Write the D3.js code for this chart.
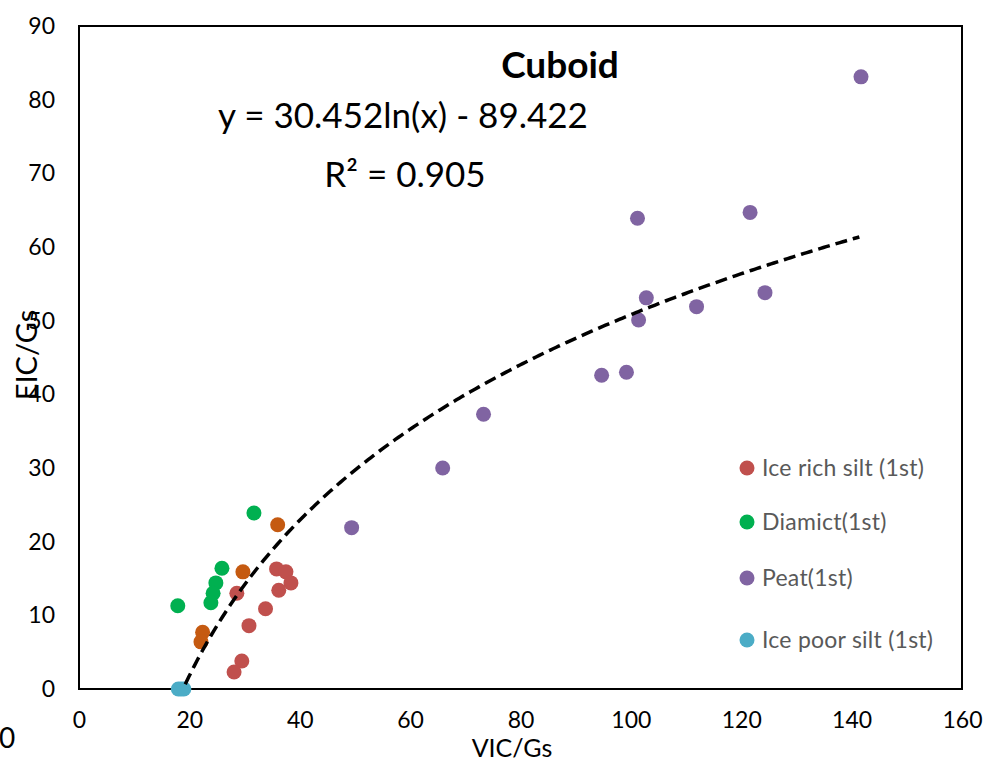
<!DOCTYPE html>
<html>
<head>
<meta charset="utf-8">
<script src="https://cdn.jsdelivr.net/npm/d3@7"></script>
<style>
  body { margin: 0; background: #fff; }
  text { font-family: Lato, "Open Sans", sans-serif; }
</style>
</head>
<body>
<div id="chart"></div>
<script>
// values, [VIC/Gs, EIC/Gs]
const iceRichSilt = [[35.8, 16.3], [37.5, 15.9], [38.4, 14.4], [36.2, 13.4], [28.6, 13.0],
  [33.8, 10.9], [30.8, 8.6], [29.5, 3.8], [28.1, 2.3]];
const diamict = [[31.7, 23.9], [25.9, 16.4], [24.8, 14.4], [24.3, 13.0], [23.9, 11.7], [17.9, 11.3]];
const peat = [[141.7, 83.1], [101.2, 63.9], [121.6, 64.7], [102.8, 53.1], [124.3, 53.8], [111.9, 51.9],
  [101.4, 50.1], [99.2, 43.0], [94.7, 42.6], [73.3, 37.3], [65.9, 30.0], [49.4, 21.9]];
const icePoorSilt = [[18.0, 0], [18.5, 0], [19.0, 0]];
const other = [[36.0, 22.3], [29.7, 15.9], [22.4, 7.7], [22.1, 6.4]];

const legendNames = ["Ice rich silt (1st)", "Diamict(1st)", "Peat(1st)", "Ice poor silt (1st)"];
const xTicks = [0, 20, 40, 60, 80, 100, 120, 140, 160];
const yTicks = [0, 10, 20, 30, 40, 50, 60, 70, 80, 90];

// trendline shown on the chart: y = 30.452ln(x) - 89.422
const fitA = 30.452, fitB = -89.422;

let width = 989,
  height = 765,
  margin = ({ top: 26, right: 27, bottom: 76, left: 79 });

let x = d3.scaleLinear()
  .domain([0, 160])
  .range([margin.left, width - margin.right]);

let y = d3.scaleLinear()
  .domain([0, 90])
  .range([height - margin.bottom, margin.top]);

const svg = d3.select("#chart")
  .append("svg")
  .attr("width", width)
  .attr("height", height)
  .attr("viewBox", [0, 0, width, height]);

svg.append("defs").append("clipPath")
  .attr("id", "plot")
  .append("rect")
  .attr("x", x(0)).attr("y", y(90))
  .attr("width", x(160) - x(0)).attr("height", y(0) - y(90));

let xAxis = g => g
  .attr("transform", `translate(0,${y(0)})`)
  .call(d3.axisBottom(x).tickValues(xTicks).tickSize(0).tickPadding(23))
  .call(g => g.select(".domain").remove())
  .call(g => g.selectAll("text").attr("font-size", 23).attr("fill", "#000").style("font-family", "Lato"));

let yAxis = g => g
  .attr("transform", `translate(${x(0)},0)`)
  .call(d3.axisLeft(y).tickValues(yTicks).tickSize(0).tickPadding(24))
  .call(g => g.select(".domain").remove())
  .call(g => g.selectAll("text").attr("font-size", 23).attr("fill", "#000").style("font-family", "Lato"));

svg.append("g").call(xAxis);
svg.append("g").call(yAxis);

// plot frame
svg.append("rect")
  .attr("x", x(0)).attr("y", y(90))
  .attr("width", x(160) - x(0)).attr("height", y(0) - y(90))
  .attr("fill", "none")
  .attr("stroke", "#000")
  .attr("stroke-width", 2);

const series = [
  { data: iceRichSilt, color: "#C0504D" },
  { data: diamict, color: "#00B050" },
  { data: peat, color: "#8064A2" },
  { data: icePoorSilt, color: "#4BACC6" },
  { data: other, color: "#C55A11" }
];

series.forEach(s => {
  svg.append("g")
    .selectAll("circle")
    .data(s.data)
    .join("circle")
    .attr("cx", d => x(d[0]))
    .attr("cy", d => y(d[1]))
    .attr("r", 7.5)
    .attr("fill", s.color);
});

// log trendline over the x range of the data
const allX = [].concat(iceRichSilt, diamict, peat, icePoorSilt, other).map(d => d[0]);
const fitPts = d3.range(d3.min(allX), d3.max(allX) + 0.01, 0.5)
  .map(v => [v, fitA * Math.log(v) + fitB]);

svg.append("path")
  .datum(fitPts)
  .attr("clip-path", "url(#plot)")
  .attr("fill", "none")
  .attr("stroke", "#000")
  .attr("stroke-width", 3.5)
  .attr("stroke-dasharray", "12,6")
  .attr("d", d3.line().x(d => x(d[0])).y(d => y(d[1])));

// titles
svg.append("text")
  .attr("x", 560).attr("y", 78)
  .attr("text-anchor", "middle")
  .attr("font-size", 37)
  .attr("font-weight", "bold")
  .text("Cuboid");

svg.append("text")
  .attr("x", 403).attr("y", 128)
  .attr("text-anchor", "middle")
  .attr("font-size", 35)
  .text(`y = ${fitA}ln(x) - ${Math.abs(fitB)}`);

svg.append("text")
  .attr("x", 405).attr("y", 187)
  .attr("text-anchor", "middle")
  .attr("font-size", 35)
  .text("R² = 0.905");

svg.append("text")
  .attr("x", 512).attr("y", 757)
  .attr("text-anchor", "middle")
  .attr("font-size", 25)
  .text("VIC/Gs");

svg.append("text")
  .attr("transform", "translate(37,355) rotate(-90)")
  .attr("text-anchor", "middle")
  .attr("font-size", 29)
  .text("EIC/Gs");

// stray label at the lower left
svg.append("text")
  .attr("x", -1).attr("y", 748)
  .attr("font-size", 28)
  .text("0");

// legend
const legend = svg.append("g")
  .selectAll("g")
  .data(legendNames)
  .join("g")
  .attr("transform", (d, i) => `translate(747,${[468, 522, 578, 640][i]})`);

legend.append("circle")
  .attr("r", 7.5)
  .attr("fill", (d, i) => series[i].color);

legend.append("text")
  .attr("x", 15)
  .attr("dy", "0.35em")
  .attr("font-size", 23)
  .attr("letter-spacing", 0.25)
  .attr("fill", "#595959")
  .text(d => d);
</script>
</body>
</html>
